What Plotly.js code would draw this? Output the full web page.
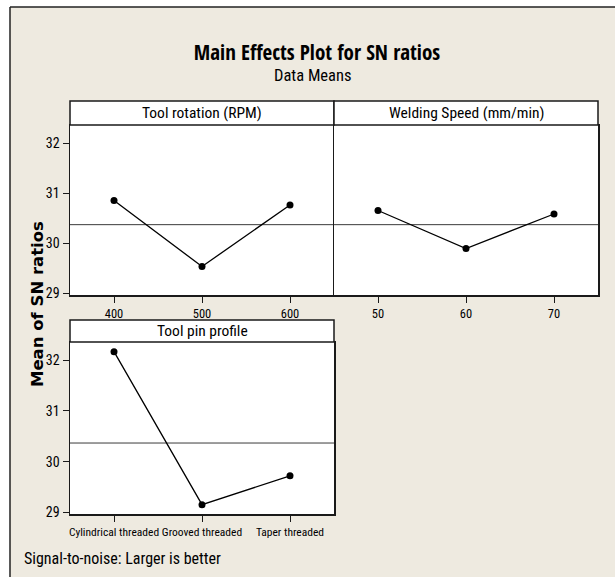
<!DOCTYPE html>
<html>
<head>
<meta charset="utf-8">
<script src="https://cdn.plot.ly/plotly-3.0.1.min.js"></script>
<style>
  html, body { margin: 0; padding: 0; background: #ffffff; }
  #chart { width: 615px; height: 577px; }
</style>
</head>
<body>
<div id="chart"></div>
<script>
// ---- Data ----
const rotationLevels = ["400", "500", "600"];
const rotationMeans  = [30.85, 29.53, 30.76];

const speedLevels = ["50", "60", "70"];
const speedMeans  = [30.65, 29.89, 30.58];

const pinLevels = ["Cylindrical threaded", "Grooved threaded", "Taper threaded"];
const pinMeans  = [32.17, 29.15, 29.72];

const yTickVals = [29, 30, 31, 32];

const panelTitles = ["Tool rotation (RPM)", "Welding Speed (mm/min)", "Tool pin profile"];
const chartTitle = "Main Effects Plot for SN ratios";
const chartSubtitle = "Data Means";
const yTitle = "Mean of SN ratios";
const footNote = "Signal-to-noise: Larger is better";

// overall mean (reference line)
const allMeans = rotationMeans.concat(speedMeans, pinMeans);
const overallMean = allMeans.reduce((a, b) => a + b, 0) / allMeans.length;

// ---- Layout helpers (pixel -> paper) ----
const W = 615, H = 577;
const px = v => v / W;
const py = v => 1 - v / H;

const NARROW = '"Roboto Condensed", "DejaVu Sans Condensed", sans-serif';
const TITLEFONT = '"Open Sans Condensed", "Roboto Condensed", sans-serif';
const BG = '#EEEAE0';
const LINE = '#1a1a1a';
const yRange = [28.96, 32.36];

function makeTrace(x, y, xa, ya) {
  return {
    type: 'scatter', mode: 'lines+markers',
    x: x, y: y, xaxis: xa, yaxis: ya,
    line: { color: '#000000', width: 1.3 },
    marker: { color: '#000000', size: 7 },
    hoverinfo: 'x+y', showlegend: false
  };
}

const data = [
  makeTrace(rotationLevels, rotationMeans, 'x', 'y'),
  makeTrace(speedLevels, speedMeans, 'x2', 'y2'),
  makeTrace(pinLevels, pinMeans, 'x3', 'y3')
];

function xAxis(domain, anchor, fs) {
  return {
    domain: domain, anchor: anchor, type: 'category', range: [-0.5, 2.5],
    showline: true, mirror: true, linecolor: LINE, linewidth: 1.5,
    ticks: 'outside', ticklen: 6, tickcolor: LINE, tickwidth: 1, tickangle: 0,
    tickfont: { family: NARROW, size: fs, color: '#000' },
    showgrid: false, zeroline: false, fixedrange: true, automargin: false
  };
}
function yAxis(domain, anchor, showLabels, mirror) {
  return {
    domain: domain, anchor: anchor, range: yRange,
    tickvals: yTickVals,
    showline: true, mirror: mirror, linecolor: LINE, linewidth: 1.5,
    ticks: showLabels ? 'outside' : '', ticklen: 6, tickcolor: LINE, tickwidth: 1,
    showticklabels: showLabels,
    tickfont: { family: NARROW, size: 14, color: '#000' },
    showgrid: false, zeroline: false, fixedrange: true, automargin: false
  };
}

const d1y = [py(295), py(125)];
const d3y = [py(514.3), py(342)];

const shapes = [
  // white area outside frame
  { type: 'rect', xref: 'paper', yref: 'paper', x0: 0, x1: 1, y0: py(7), y1: 1.01,
    fillcolor: '#ffffff', line: { width: 0 }, layer: 'above' },
  { type: 'rect', xref: 'paper', yref: 'paper', x0: -0.01, x1: px(10), y0: -0.01, y1: 1.01,
    fillcolor: '#ffffff', line: { width: 0 }, layer: 'above' },
  // frame lines
  { type: 'line', xref: 'paper', yref: 'paper', x0: px(10), x1: 1.01, y0: py(7), y1: py(7),
    line: { color: '#222', width: 1.5 } },
  { type: 'line', xref: 'paper', yref: 'paper', x0: px(10), x1: px(10), y0: py(7), y1: -0.01,
    line: { color: '#222', width: 1.5 } },
  // panel header strips
  { type: 'rect', xref: 'paper', yref: 'paper', x0: px(70), x1: px(334), y0: py(125), y1: py(101),
    fillcolor: '#ffffff', line: { color: LINE, width: 1.5 } },
  { type: 'rect', xref: 'paper', yref: 'paper', x0: px(334), x1: px(598), y0: py(125), y1: py(101),
    fillcolor: '#ffffff', line: { color: LINE, width: 1.5 } },
  { type: 'rect', xref: 'paper', yref: 'paper', x0: px(70), x1: px(334), y0: py(342), y1: py(320),
    fillcolor: '#ffffff', line: { color: LINE, width: 1.5 } }
];
// mean reference lines
[['x', 'y'], ['x2', 'y2'], ['x3', 'y3']].forEach(([xa, ya]) => {
  shapes.push({ type: 'line', xref: xa + ' domain', yref: ya, x0: 0, x1: 1,
    y0: overallMean, y1: overallMean, line: { color: '#3a3a3a', width: 1 }, layer: 'below' });
});

const annotations = [
  { text: chartSubtitle, xref: 'paper', yref: 'paper', x: px(313), y: py(75),
    xanchor: 'center', yanchor: 'middle', showarrow: false,
    font: { family: NARROW, size: 16.5, color: '#000' } },
  { text: panelTitles[0], xref: 'paper', yref: 'paper', x: px(202), y: py(113),
    xanchor: 'center', yanchor: 'middle', showarrow: false,
    font: { family: NARROW, size: 15.5, color: '#000' } },
  { text: panelTitles[1], xref: 'paper', yref: 'paper', x: px(466), y: py(113),
    xanchor: 'center', yanchor: 'middle', showarrow: false,
    font: { family: NARROW, size: 15.5, color: '#000' } },
  { text: panelTitles[2], xref: 'paper', yref: 'paper', x: px(202), y: py(331),
    xanchor: 'center', yanchor: 'middle', showarrow: false,
    font: { family: NARROW, size: 15.5, color: '#000' } },
  { text: '<b>' + yTitle + '</b>', xref: 'paper', yref: 'paper', x: px(37), y: py(304),
    xanchor: 'center', yanchor: 'middle', showarrow: false, textangle: -90,
    font: { family: '"DejaVu Sans", Verdana, sans-serif', size: 16.5, color: '#000' } },
  { text: footNote, xref: 'paper', yref: 'paper', x: px(22), y: py(558),
    xanchor: 'left', yanchor: 'middle', showarrow: false,
    font: { family: NARROW, size: 16, color: '#000' } }
];

const layout = {
  width: W, height: H,
  margin: { l: 0, r: 0, t: 0, b: 0 },
  paper_bgcolor: BG, plot_bgcolor: '#ffffff',
  showlegend: false,
  title: {
    text: '<b>' + chartTitle + '</b>',
    x: px(317), xanchor: 'center', y: py(53), yanchor: 'middle',
    xref: 'paper', yref: 'paper',
    font: { family: TITLEFONT, size: 21, weight: 'bold', color: '#000' }
  },
  xaxis: xAxis([px(70), px(334)], 'y', 12.5),
  yaxis: yAxis(d1y, 'x', true, false),
  xaxis2: xAxis([px(334), px(598)], 'y2', 12.5),
  yaxis2: yAxis(d1y, 'x2', false, true),
  xaxis3: xAxis([px(70), px(334)], 'y3', 11.5),
  yaxis3: yAxis(d3y, 'x3', true, true),
  shapes: shapes,
  annotations: annotations
};

Plotly.newPlot('chart', data, layout, { displayModeBar: false, staticPlot: true });
</script>
</body>
</html>
